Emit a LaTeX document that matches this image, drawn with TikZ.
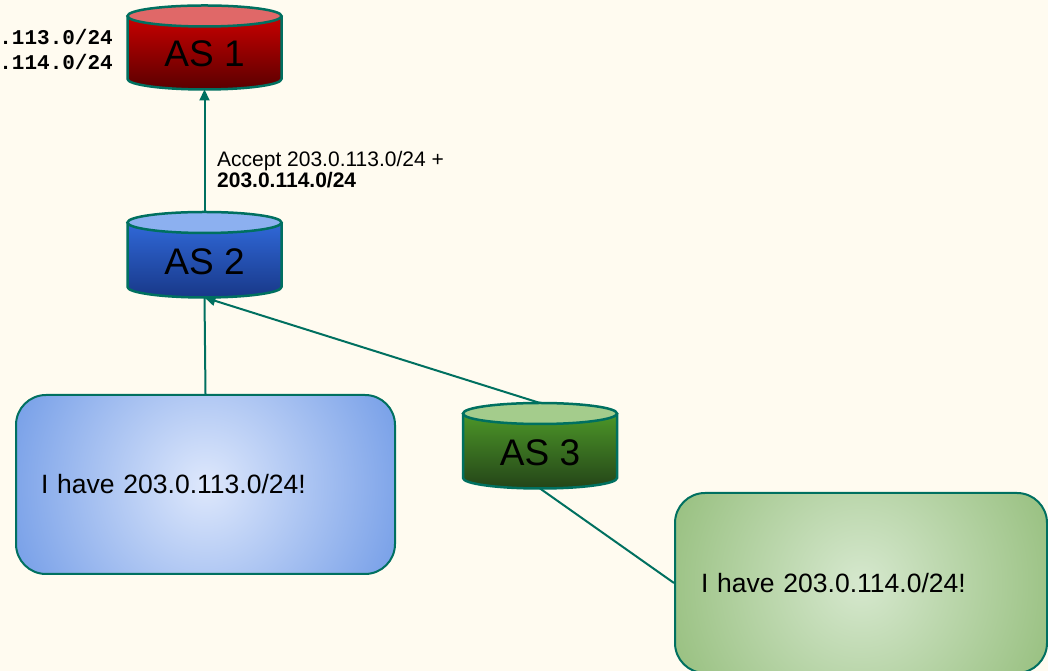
\documentclass[tikz,border=0pt]{standalone}
\usepackage{fontspec}
\setmainfont{Liberation Sans}
\newfontfamily\monofont{Liberation Mono}
\usetikzlibrary{arrows.meta}
\definecolor{bgcol}{RGB}{255,251,240}
\definecolor{edgecol}{RGB}{0,112,96}
\definecolor{redtop}{RGB}{224,104,104}
\definecolor{redhi}{RGB}{200,0,0}
\definecolor{redlo}{RGB}{90,0,0}
\definecolor{bluetop}{RGB}{140,176,240}
\definecolor{bluehi}{RGB}{48,104,216}
\definecolor{bluelo}{RGB}{24,56,136}
\definecolor{greentop}{RGB}{164,204,140}
\definecolor{greenhi}{RGB}{76,150,40}
\definecolor{greenlo}{RGB}{36,68,24}
\definecolor{boxbluein}{RGB}{222,232,252}
\definecolor{boxblueout}{RGB}{120,160,232}
\definecolor{boxgreenin}{RGB}{214,232,206}
\definecolor{boxgreenout}{RGB}{152,192,128}
% #1 name, #2 cx, #3 top cy, #4 bottom cy, #5 lid colour, #6 body top, #7 body bottom, #8 label
\newcommand\ascyl[8]{%
  \shade[top color=#6, bottom color=#7] (#2-77,#3) -- (#2-77,#4)
     arc[start angle=180, end angle=360, x radius=77, y radius=10.5] -- (#2+77,#3) -- cycle;
  \fill[#5] (#2,#3) ellipse[x radius=77, y radius=10.5];
  \draw[cyledge] (#2-77,#3) -- (#2-77,#4)
     arc[start angle=180, end angle=360, x radius=77, y radius=10.5] -- (#2+77,#3);
  \draw[cyledge] (#2,#3) ellipse[x radius=77, y radius=10.5];
  \node[aslabel, anchor=base] (#1) at (#2,#4+12.5) {#8};
  \coordinate (#1-top) at (#2,#3+10.5);
  \coordinate (#1-bot) at (#2,#4-10.5);
}
\begin{document}
\begin{tikzpicture}[x=1pt,y=1pt,
  cyledge/.style={draw=edgecol, line width=2.5pt},
  aslabel/.style={font=\fontsize{37}{40}\selectfont, inner sep=0pt, text=black},
  claim/.style n args={2}{draw=edgecol, line width=2pt, rounded corners=30pt,
     fill=#2, path picture={\shade[inner color=#1, outer color=#2]
       (path picture bounding box.center) circle[radius=205pt];},
     align=left, font=\fontsize{26.5}{30}\selectfont, anchor=south west},
  link/.style={draw=edgecol, line width=2pt},
  arr/.style={link, -{Triangle[length=11pt,width=10pt]}}]
\useasboundingbox (0,0) rectangle (1048,671);
\fill[bgcol] (0,0) rectangle (1048,671);

\node[claim={boxbluein}{boxblueout}, minimum width=379pt, minimum height=179pt,
      text width=329pt, inner xsep=25pt] (b1) at (15,96) {I have 203.0.113.0/24!};
\node[claim={boxgreenin}{boxgreenout}, minimum width=372pt, minimum height=180pt,
      text width=320pt, inner xsep=26pt] (b2) at (674,-3) {I have 203.0.114.0/24!};

\ascyl{as1}{204.5}{655}{592}{redtop}{redhi}{redlo}{AS 1}
\ascyl{as2}{204.5}{448.5}{384}{bluetop}{bluehi}{bluelo}{AS 2}
\ascyl{as3}{540}{257.5}{193}{greentop}{greenhi}{greenlo}{AS 3}

\draw[arr] (as2-top) -- (as1-bot);
\draw[link] (b1.north) -- (as2-bot);
\draw[arr] (as3-top) -- (as2-bot);
\draw[link] (as3-bot) -- (b2.west);

\node[font=\fontsize{21}{21}\selectfont, align=left, anchor=north west, inner sep=0pt]
  (lbl) at (217,520) {Accept 203.0.113.0/24 +\\\textbf{203.0.114.0/24}};
\node[font=\monofont\bfseries\fontsize{21}{25}\selectfont, align=right, anchor=north east, inner sep=0pt]
  (pfx) at (113,642) {.113.0/24\\.114.0/24};
\end{tikzpicture}
\end{document}
